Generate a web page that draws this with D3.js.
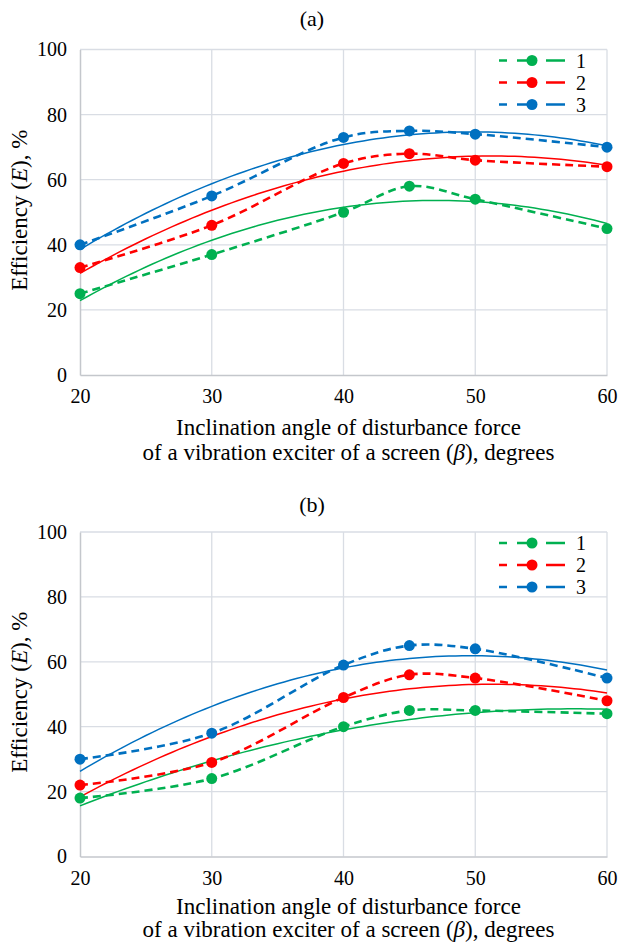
<!DOCTYPE html>
<html>
<head>
<meta charset="utf-8">
<script src="https://cdn.jsdelivr.net/npm/d3@7"></script>
<style>
  body { margin: 0; background: #fff; }
  svg, svg text { font-family: "Liberation Serif", "Times New Roman", Times, "DejaVu Serif", serif; }
</style>
</head>
<body>
<div id="chart"></div>
<script>
// Settings
const SIZE = [618, 943]
const X_RANGE = [80, 607]
const FONT = "Liberation Serif, Times New Roman, DejaVu Serif, serif"
const PANELS = [
  {id: "a", title: "(a)", titleY: 26, yRange: [375, 49.5], xTitleOffsets: [60, 85]},
  {id: "b", title: "(b)", titleY: 512, yRange: [856.5, 532], xTitleOffsets: [57, 80.5]}
]
const COLORS = ["#00b050", "#ff0000", "#0070c0"]

// Data
const angles = [20, 30, 40, 45, 50, 60]
const seriesNames = ["1", "2", "3"]
const xTicks = [20, 30, 40, 50, 60]
const yTicks = [0, 20, 40, 60, 80, 100]

const panelA1 = [25, 37, 50, 58, 54, 45]
const panelA2 = [33, 46, 65, 68, 66, 64]
const panelA3 = [40, 55, 73, 75, 74, 70]

const panelB1 = [18, 24, 40, 45, 45, 44]
const panelB2 = [22, 29, 49, 56, 55, 48]
const panelB3 = [30, 38, 59, 65, 64, 55]

const panelData = {a: [panelA1, panelA2, panelA3], b: [panelB1, panelB2, panelB3]}

// least squares quadratic (Excel "polynomial, order 2" trendline)
function quadFit(xs, ys) {
  const s = k => d3.sum(xs, x => x ** k)
  const t = k => d3.sum(xs, (x, i) => x ** k * ys[i])
  const A = [[s(0), s(1), s(2)], [s(1), s(2), s(3)], [s(2), s(3), s(4)]]
  const b = [t(0), t(1), t(2)]
  const det = m => m[0][0] * (m[1][1] * m[2][2] - m[1][2] * m[2][1])
    - m[0][1] * (m[1][0] * m[2][2] - m[1][2] * m[2][0])
    + m[0][2] * (m[1][0] * m[2][1] - m[1][1] * m[2][0])
  const D = det(A)
  const coef = [0, 1, 2].map(c => det(A.map((row, r) => row.map((v, j) => j == c ? b[r] : v))) / D)
  return x => coef[0] + coef[1] * x + coef[2] * x * x
}

const svg = d3.select("#chart").append("svg")
  .attr("width", SIZE[0])
  .attr("height", SIZE[1])
  .attr("font-family", FONT)

const scaleX = d3.scaleLinear().domain([20, 60]).range(X_RANGE)

for (const panel of PANELS) {
  const g = svg.append("g").attr("id", `panel-${panel.id}`)
  const scaleY = d3.scaleLinear().domain([0, 100]).range(panel.yRange)

  g.append("text")
    .attr("x", 312).attr("y", panel.titleY)
    .attr("text-anchor", "middle")
    .attr("font-family", FONT)
    .attr("font-size", 22)
    .text(panel.title)

  // grid
  g.append("g")
    .attr("stroke", "#d9dde4")
    .attr("stroke-width", 1.3)
    .call(g => g.selectAll("line.h").data(yTicks.slice(1)).join("line")
      .attr("x1", X_RANGE[0]).attr("x2", X_RANGE[1])
      .attr("y1", d => scaleY(d)).attr("y2", d => scaleY(d)))
    .call(g => g.selectAll("line.v").data(xTicks.slice(1)).join("line")
      .attr("y1", panel.yRange[0]).attr("y2", panel.yRange[1])
      .attr("x1", d => scaleX(d)).attr("x2", d => scaleX(d)))

  // axes
  g.append("g")
    .attr("transform", `translate(0,${panel.yRange[0]})`)
    .call(d3.axisBottom(scaleX).tickValues(xTicks).tickSize(0).tickPadding(14))
    .attr("font-family", FONT)
    .call(a => a.select(".domain").attr("stroke", "#c4c7cc").attr("stroke-width", 1.5))
    .call(a => a.selectAll("text").attr("font-size", 20).attr("fill", "#000"))

  g.append("g")
    .attr("transform", `translate(${X_RANGE[0]},0)`)
    .call(d3.axisLeft(scaleY).tickValues(yTicks).tickSize(0).tickPadding(13))
    .attr("font-family", FONT)
    .call(a => a.select(".domain").attr("stroke", "#c4c7cc").attr("stroke-width", 1.5))
    .call(a => a.selectAll("text").attr("font-size", 20).attr("fill", "#000"))

  // axis titles
  const midX = (X_RANGE[0] + X_RANGE[1]) / 2 + 5
  const xt = g.append("text")
    .attr("text-anchor", "middle")
    .attr("font-family", FONT)
    .attr("font-size", 23)
  xt.append("tspan").attr("x", midX).attr("y", panel.yRange[0] + panel.xTitleOffsets[0])
    .text("Inclination angle of disturbance force")
  const l2 = xt.append("tspan").attr("x", midX).attr("y", panel.yRange[0] + panel.xTitleOffsets[1])
  l2.append("tspan").text("of a vibration exciter of a screen (")
  l2.append("tspan").attr("font-style", "italic").text("β")
  l2.append("tspan").text("), degrees")

  const midY = (panel.yRange[0] + panel.yRange[1]) / 2
  const yt = g.append("text")
    .attr("transform", `translate(27,${midY - 2}) rotate(-90)`)
    .attr("text-anchor", "middle")
    .attr("font-family", FONT)
    .attr("font-size", 23)
  yt.append("tspan").text("Efficiency (")
  yt.append("tspan").attr("font-style", "italic").text("E")
  yt.append("tspan").text("), %")

  const data = panelData[panel.id]

  // trendlines
  const trendX = d3.range(20, 60.01, 0.5)
  const trendLine = d3.line().x(d => scaleX(d[0])).y(d => scaleY(d[1]))
  g.append("g")
    .attr("fill", "none")
    .attr("stroke-width", 1.5)
    .selectAll("path")
    .data(data)
    .join("path")
      .attr("stroke", (d, i) => COLORS[i])
      .attr("d", d => {
        const f = quadFit(angles, d)
        return trendLine(trendX.map(x => [x, f(x)]))
      })

  // smoothed dashed series
  const line = d3.line()
    .x((d, i) => scaleX(angles[i]))
    .y(d => scaleY(d))
    .curve(d3.curveCatmullRom.alpha(0.5))
  g.append("g")
    .attr("fill", "none")
    .attr("stroke-width", 2.6)
    .attr("stroke-dasharray", "8,5")
    .selectAll("path")
    .data(data)
    .join("path")
      .attr("stroke", (d, i) => COLORS[i])
      .attr("d", line)

  g.append("g")
    .selectAll("g")
    .data(data)
    .join("g")
      .attr("fill", (d, i) => COLORS[i])
    .selectAll("circle")
    .data(d => d)
    .join("circle")
      .attr("cx", (d, i) => scaleX(angles[i]))
      .attr("cy", d => scaleY(d))
      .attr("r", 5.5)

  // legend
  const legend = g.append("g")
    .selectAll("g")
    .data(seriesNames)
    .join("g")
      .attr("transform", (d, i) => `translate(499,${panel.yRange[1] + 11 + i * 22})`)
  legend.append("line")
    .attr("x1", 0).attr("x2", 66)
    .attr("stroke", (d, i) => COLORS[i])
    .attr("stroke-width", 2.6)
    .attr("stroke-dasharray", "8,10,19,10,19,10")
  legend.append("circle")
    .attr("cx", 33).attr("r", 5.5)
    .attr("fill", (d, i) => COLORS[i])
  legend.append("text")
    .attr("x", 77).attr("y", 7)
    .attr("font-family", FONT)
    .attr("font-size", 20)
    .text(d => d)
}
</script>
</body>
</html>
